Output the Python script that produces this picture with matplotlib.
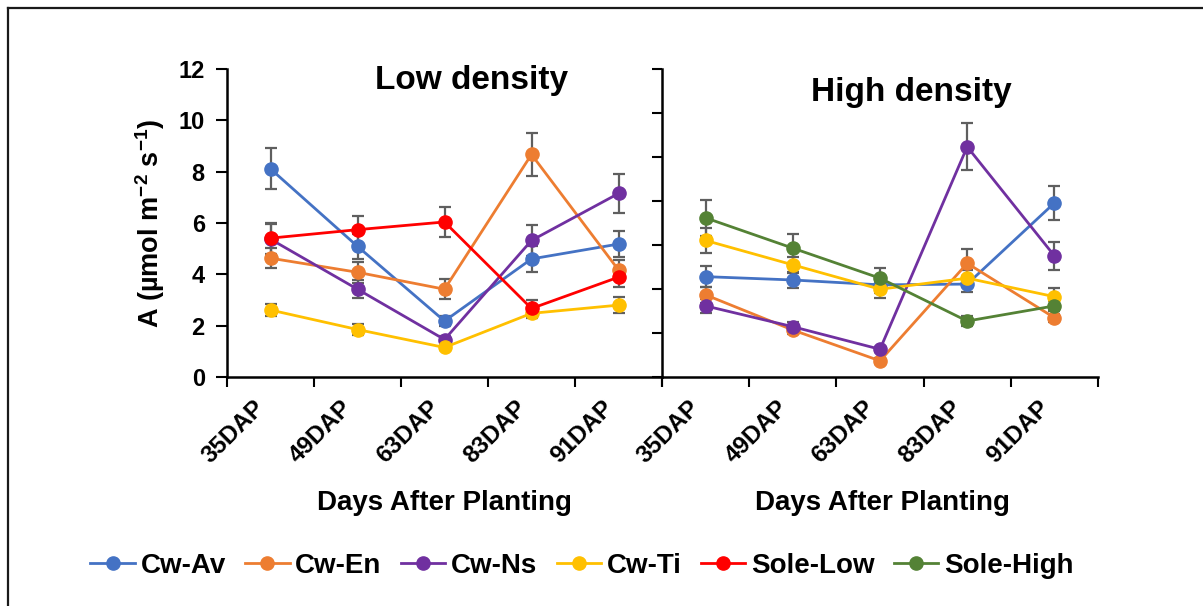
import numpy as np
import matplotlib
matplotlib.use("Agg")
import matplotlib.pyplot as plt
from matplotlib.lines import Line2D

plt.rcParams["font.family"] = ["Liberation Sans", "DejaVu Sans"]
plt.rcParams["font.weight"] = "bold"
plt.rcParams["mathtext.fontset"] = "custom"
plt.rcParams["mathtext.rm"] = "Liberation Sans:bold"
plt.rcParams["mathtext.it"] = "Liberation Sans:bold"
plt.rcParams["mathtext.bf"] = "Liberation Sans:bold"

# ---- data -------------------------------------------------------------
days = ["35DAP", "49DAP", "63DAP", "83DAP", "91DAP"]

# low density panel
low_av = [8.11, 5.09, 2.18, 4.60, 5.18]
low_av_err = [0.80, 0.50, 0.20, 0.50, 0.52]
low_en = [4.63, 4.08, 3.42, 8.67, 4.17]
low_en_err = [0.40, 0.40, 0.38, 0.85, 0.40]
low_ns = [5.37, 3.42, 1.46, 5.32, 7.15]
low_ns_err = [0.60, 0.35, 0.15, 0.60, 0.75]
low_ti = [2.61, 1.85, 1.15, 2.48, 2.80]
low_ti_err = [0.25, 0.20, 0.10, 0.20, 0.30]
sole_low = [5.41, 5.74, 6.04, 2.67, 3.89]
sole_low_err = [0.60, 0.55, 0.60, 0.33, 0.37]

# high density panel (read against the left-hand scale)
high_av = [3.91, 3.78, 3.59, 3.62, 6.78]
high_av_err = [0.40, 0.30, 0.30, 0.30, 0.68]
high_en = [3.20, 1.83, 0.63, 4.43, 2.31]
high_en_err = [0.30, 0.15, 0.12, 0.55, 0.15]
high_ns = [2.77, 1.96, 1.08, 8.97, 4.72]
high_ns_err = [0.28, 0.20, 0.10, 0.92, 0.55]
high_ti = [5.32, 4.37, 3.42, 3.85, 3.13]
high_ti_err = [0.50, 0.30, 0.35, 0.30, 0.33]
sole_high = [6.20, 5.02, 3.85, 2.18, 2.77]
sole_high_err = [0.69, 0.56, 0.39, 0.20, 0.20]

colors = {
    "Cw-Av": "#4472C4",
    "Cw-En": "#ED7D31",
    "Cw-Ns": "#7030A0",
    "Cw-Ti": "#FFC000",
    "Sole-Low": "#FF0000",
    "Sole-High": "#548235",
}

low_series = [("Cw-Av", low_av, low_av_err), ("Cw-En", low_en, low_en_err),
              ("Cw-Ns", low_ns, low_ns_err), ("Cw-Ti", low_ti, low_ti_err),
              ("Sole-Low", sole_low, sole_low_err)]
high_series = [("Cw-Av", high_av, high_av_err), ("Cw-En", high_en, high_en_err),
               ("Cw-Ns", high_ns, high_ns_err), ("Cw-Ti", high_ti, high_ti_err),
               ("Sole-High", sole_high, sole_high_err)]

# ---- figure -----------------------------------------------------------
W, H = 1203, 606
fig = plt.figure(figsize=(W / 100, H / 100), dpi=100)
ax_low = fig.add_axes([227 / W, 1 - 377 / H, 435 / W, 308 / H])
ax_high = fig.add_axes([662 / W, 1 - 377 / H, 436 / W, 308 / H])

x = np.arange(len(days)) + 0.5


def draw(ax, series):
    for name, vals, errs in series:
        ax.errorbar(x, vals, yerr=errs, fmt="none", ecolor="#5f5f5f",
                    elinewidth=1.6, capsize=4.5, capthick=1.6, zorder=2)
        ax.plot(x, vals, "-o", color=colors[name], lw=2.0, ms=9.5,
                label=name, zorder=3)
    ax.set_xlim(0, len(days))
    ax.set_ylim(0, 12)
    # ticks sit between categories, labels under the category centres
    ax.set_xticks(np.arange(len(days) + 1))
    ax.set_xticklabels([])
    for xi, d in zip(x, days):
        ax.annotate(d, xy=(xi, 0), xycoords=ax.get_xaxis_transform(),
                    xytext=(-9, -27), textcoords="offset pixels",
                    rotation=45, ha="right", va="center",
                    rotation_mode="anchor", fontsize=17.5,
                    fontweight="bold", annotation_clip=False)
    ax.tick_params(axis="x", which="major", length=7, width=1.5,
                   direction="out")
    for s in ["top", "right"]:
        ax.spines[s].set_visible(False)
    for s in ["left", "bottom"]:
        ax.spines[s].set_linewidth(1.8)
    ax.patch.set_alpha(0)


draw(ax_low, low_series)
draw(ax_high, high_series)

ax_low.set_yticks(np.arange(0, 13, 2))
ax_low.tick_params(axis="y", length=8, width=1.5, pad=8, labelsize=17)
ax_low.set_ylabel(r"A (µmol m$^{-2}$ s$^{-1}$)", fontsize=19.5,
                  fontweight="bold", labelpad=8)

ax_high.set_yticks(np.linspace(0, 12, 8))
ax_high.set_yticklabels([])
ax_high.tick_params(axis="y", length=7, width=1.5)

ax_low.text(0.563, 0.964, "Low density", transform=ax_low.transAxes,
            ha="center", va="center", fontsize=24, fontweight="bold")
ax_high.text(0.573, 0.925, "High density", transform=ax_high.transAxes,
             ha="center", va="center", fontsize=24, fontweight="bold")

fig.text(444 / W, 1 - 503 / H, "Days After Planting", ha="center",
         va="center", fontsize=20, fontweight="bold")
fig.text(882 / W, 1 - 503 / H, "Days After Planting", ha="center",
         va="center", fontsize=20, fontweight="bold")

handles = [Line2D([], [], color=c, marker="o", lw=2.0, ms=9.5, label=n)
           for n, c in colors.items()]
fig.legend(handles=handles, loc="center", ncol=6,
           bbox_to_anchor=(582 / W, 1 - 566 / H), frameon=False,
           prop={"size": 20, "weight": "bold"}, handlelength=1.6,
           handletextpad=0.2, columnspacing=0.7)

# border lines (top and left only, as in the source)
fig.add_artist(Line2D([8 / W, 1], [1 - 8 / H, 1 - 8 / H],
                      transform=fig.transFigure, color="#1a1a1a", lw=1.6))
fig.add_artist(Line2D([8 / W, 8 / W], [0, 1 - 8 / H],
                      transform=fig.transFigure, color="#1a1a1a", lw=1.6))

fig.savefig("out.png", dpi=100)
